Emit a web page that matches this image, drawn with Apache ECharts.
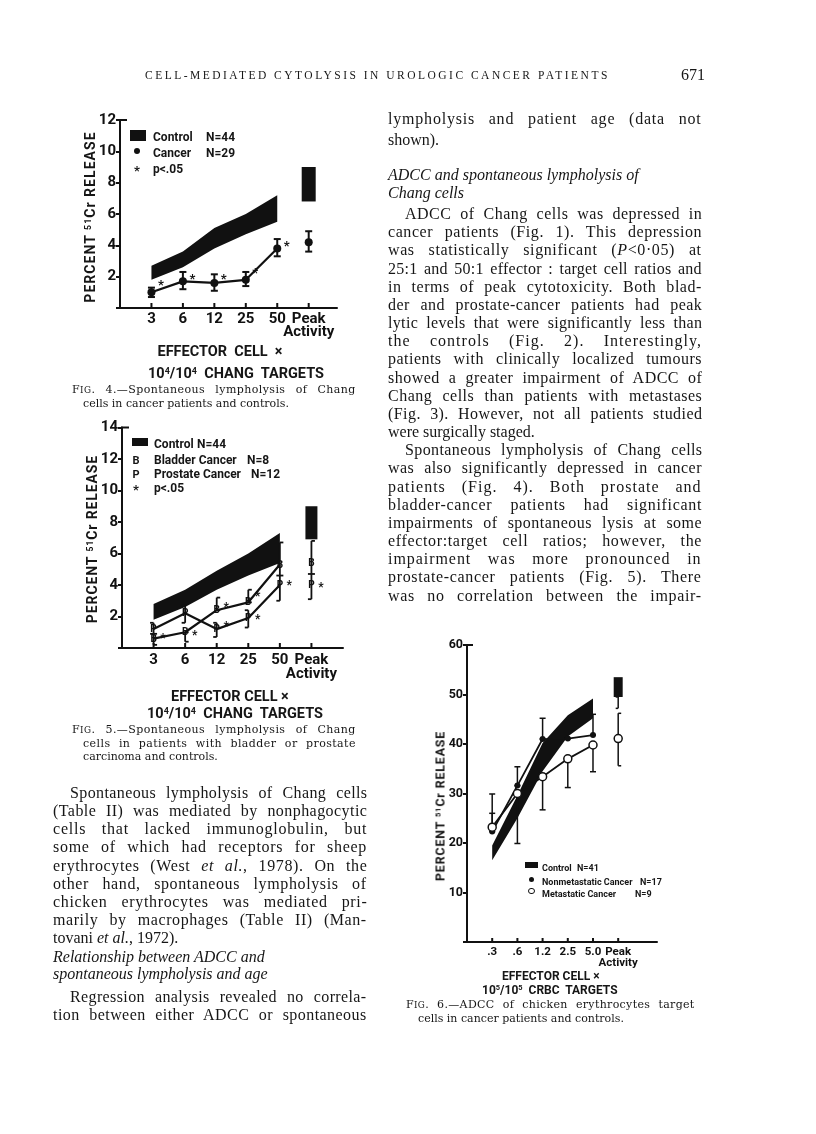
<!DOCTYPE html>
<html>
<head>
<meta charset="utf-8">
<script src="https://cdn.jsdelivr.net/npm/echarts@6/dist/echarts.min.js"></script>
<style>
html, body { margin: 0; padding: 0; background: #fff; }
#page { position: relative; width: 816px; height: 1134px; overflow: hidden; background: #fff; }
#chart { position: absolute; left: 0; top: 0; width: 816px; height: 1134px; }
.t { position: absolute; white-space: nowrap; color: #161616; }
.body { font: 16px/18px "Liberation Serif", "Times New Roman", serif; }
.cap { font: 11px/13px "DejaVu Serif", serif; }
.hdr { font: 11.5px/14px "Liberation Serif", serif; }
.s { font-family: Roboto, "DejaVu Sans", sans-serif; font-weight: 700; }
.rot { transform: translate(-50%, -50%) rotate(-90deg); }
.box { position: absolute; background: #111; }
.dot { position: absolute; border-radius: 50%; box-sizing: border-box; }
sup { font-size: 0.62em; vertical-align: 0.5em; line-height: 0; }
.sc { font-size: 0.8em; }
</style>
</head>
<body>
<div id="page"><div id="chart"></div></div>
<script>
// ---- Fig. 4 : spontaneous lympholysis, cancer vs control
const f4Labels = ['3', '6', '12', '25', '50', 'Peak\nActivity'];
const f4X = [1, 2, 3, 4, 5];
const f4CtrlLo = [1.8, 2.6, 3.8, 4.7, 5.5];
const f4CtrlHi = [2.7, 3.6, 5.1, 6.0, 7.2];
const f4CtrlPeak = [6.8, 9.0];
const f4Cancer = [1.0, 1.7, 1.6, 1.8, 3.8];
const f4CancerLo = [0.7, 1.2, 1.1, 1.4, 3.3];
const f4CancerHi = [1.3, 2.3, 2.15, 2.3, 4.4];
const f4CancerPeak = [4.2, 3.6, 4.9]; // value, low, high
const f4StarX = [1.3, 2.3, 3.3, 4.3, 5.3];
const f4StarY = [1.6, 2.0, 2.0, 2.4, 4.1];

// ---- Fig. 5 : bladder / prostate
const f5Labels = ['3', '6', '12', '25', '50', 'Peak\nActivity'];
const f5X = [1, 2, 3, 4, 5];
const f5CtrlLo = [1.8, 2.6, 3.7, 4.6, 5.4];
const f5CtrlHi = [2.8, 3.7, 4.9, 6.0, 7.3];
const f5CtrlPeak = [6.9, 9.0];
const f5Bladder = [0.6, 1.0, 2.4, 2.9, 5.3];
const f5BladderLo = [0.2, 0.4, 2.4, 2.9, 4.6];
const f5BladderHi = [0.9, 1.0, 3.2, 3.7, 6.7];
const f5BladderPeak = [5.4, 4.7, 6.8];
const f5Prostate = [1.2, 2.2, 1.2, 1.9, 4.0];
const f5ProstateLo = [0.9, 1.6, 0.7, 1.3, 3.0];
const f5ProstateHi = [1.6, 2.7, 1.6, 2.4, 4.6];
const f5ProstatePeak = [4.0, 3.1, 4.7];
const f5StarX = [1.3, 2.3, 3.3, 3.3, 4.3, 4.3, 5.3, 6.3];
const f5StarY = [0.75, 0.97, 2.75, 1.5, 3.4, 2.0, 4.15, 4.0];

// ---- Fig. 6 : ADCC of chicken erythrocytes
const f6Labels = ['.3', '.6', '1.2', '2.5', '5.0', 'Peak\nActivity'];
const f6X = [1, 2, 3, 4, 5];
const f6CtrlLo = [16.5, 25.0, 34.5, 41.5, 45.2];
const f6CtrlHi = [19.5, 29.6, 40.2, 45.8, 49.2];
const f6CtrlPeak = [49.5, 53.5];
const f6CtrlPeakLo = 47.2;
const f6NonMet = [22.3, 31.6, 41.0, 41.1, 41.8];
const f6NonMetHi = [26.0, 35.4, 45.2, 41.1, 46.0];
const f6Met = [23.2, 30.0, 33.4, 37.0, 39.8];
const f6MetLo = [23.2, 19.9, 26.7, 31.2, 34.4];
const f6MetHi = [29.9, 30.0, 33.4, 37.0, 39.8];
const f6MetPeak = [41.1, 35.6, 46.2];

// tick positions shared by the three x axes (5 ratios + peak)
const tickPos = [1, 2, 3, 4, 5, 6];
const PEAK = 6;
const INK = '#111';
const SANS = 'Roboto, "DejaVu Sans", sans-serif';

function xAx(g, max, labels, fs, lh) {
  return {
    type: 'value', gridIndex: g, min: 0, max: max, interval: 1,
    axisLine: { onZero: false, lineStyle: { color: INK, width: 2 } },
    axisTick: { show: false },
    axisLabel: {
      formatter: v => (tickPos.indexOf(v) >= 0 ? labels[v - 1] : ''),
      showMinLabel: true, showMaxLabel: true,
      fontFamily: SANS, fontWeight: 'bold', fontSize: fs, lineHeight: lh, color: INK, margin: 5
    },
    splitLine: { show: false }
  };
}

function yAx(g, max, step, fs) {
  return {
    type: 'value', gridIndex: g, min: 0, max: max, interval: step,
    axisLine: { show: true, onZero: false, lineStyle: { color: INK, width: 2 } },
    axisTick: { show: true, length: 4, lineStyle: { color: INK, width: 2 } },
    axisLabel: {
      formatter: v => (v === 0 ? '' : String(v)),
      fontFamily: SANS, fontWeight: 'bold', fontSize: fs, color: INK, margin: 4
    },
    splitLine: { show: false }
  };
}

// inside x ticks plus the little stub at the top of the y axis
function ticks(g, ymax, len, stub) {
  return {
    type: 'custom', xAxisIndex: g, yAxisIndex: g, z: 2, silent: true,
    data: tickPos.map(v => [v, 0]).concat([[0, ymax]]),
    renderItem(params, api) {
      const c = api.coord([api.value(0), api.value(1)]);
      const st = { stroke: INK, lineWidth: 2 };
      if (api.value(1) > 0) return { type: 'line', shape: { x1: c[0] - 1, y1: c[1], x2: c[0] + stub, y2: c[1] }, style: st };
      return { type: 'line', shape: { x1: c[0], y1: c[1], x2: c[0], y2: c[1] - len }, style: st };
    }
  };
}

function band(g, xs, lo, hi) {
  return {
    type: 'custom', xAxisIndex: g, yAxisIndex: g, z: 1, silent: true,
    data: xs.map((x, i) => [x, lo[i], hi[i]]),
    renderItem(params, api) {
      if (params.dataIndex !== 0) return;
      const top = xs.map((x, i) => api.coord([x, hi[i]]));
      const bot = xs.map((x, i) => api.coord([x, lo[i]])).reverse();
      return { type: 'polygon', shape: { points: top.concat(bot) }, style: { fill: INK } };
    }
  };
}

function peakBox(g, range, w) {
  return {
    type: 'custom', xAxisIndex: g, yAxisIndex: g, z: 1, silent: true,
    data: [[PEAK, range[0], range[1]]],
    renderItem(params, api) {
      const a = api.coord([api.value(0), api.value(2)]);
      const b = api.coord([api.value(0), api.value(1)]);
      return { type: 'rect', shape: { x: a[0] - w / 2, y: a[1], width: w, height: b[1] - a[1] }, style: { fill: INK } };
    }
  };
}

function errBars(g, xs, lo, hi, cap, side, lw) {
  return {
    type: 'custom', xAxisIndex: g, yAxisIndex: g, z: 2, silent: true,
    data: xs.map((x, i) => [x, lo[i], hi[i]]),
    renderItem(params, api) {
      const t = api.coord([api.value(0), api.value(2)]);
      const b = api.coord([api.value(0), api.value(1)]);
      const l = side === 'right' ? 0 : -cap;
      const r = side === 'left' ? 0 : cap;
      const st = { stroke: INK, lineWidth: lw };
      return {
        type: 'group', children: [
          { type: 'line', shape: { x1: t[0], y1: t[1], x2: b[0], y2: b[1] }, style: st },
          { type: 'line', shape: { x1: t[0] + l, y1: t[1], x2: t[0] + r, y2: t[1] }, style: st },
          { type: 'line', shape: { x1: b[0] + l, y1: b[1], x2: b[0] + r, y2: b[1] }, style: st }
        ]
      };
    }
  };
}

function glyphs(g, xs, ys, txt, fs, dy) {
  return {
    type: 'custom', xAxisIndex: g, yAxisIndex: g, z: 5, silent: true,
    data: xs.map((x, i) => [x, ys[i]]),
    renderItem(params, api) {
      const p = api.coord([api.value(0), api.value(1)]);
      return {
        type: 'text', x: p[0], y: p[1] + dy,
        style: { text: txt, fontFamily: SANS, fontWeight: 'bold', fontSize: fs, fill: INK, align: 'center', verticalAlign: 'middle' }
      };
    }
  };
}

function line(g, xs, ys, sym, size, fill, lw) {
  return {
    type: 'line', xAxisIndex: g, yAxisIndex: g, z: 3, silent: true,
    data: xs.map((x, i) => [x, ys[i]]),
    symbol: sym, symbolSize: size, showSymbol: sym !== 'none',
    itemStyle: { color: fill, borderColor: INK, borderWidth: fill === '#fff' ? 1.5 : 0 },
    lineStyle: { color: INK, width: lw }
  };
}

function dotAt(g, x, y, size, fill) {
  return {
    type: 'scatter', xAxisIndex: g, yAxisIndex: g, z: 4, silent: true,
    data: [[x, y]], symbol: 'circle', symbolSize: size,
    itemStyle: { color: fill, borderColor: INK, borderWidth: fill === '#fff' ? 1.5 : 0, opacity: 1 }
  };
}

const chart = echarts.init(document.getElementById('chart'), null, { renderer: 'canvas' });
chart.setOption({
  animation: false,
  backgroundColor: '#fff',
  grid: [
    { left: 120, top: 120, width: 217, height: 188 },
    { left: 122, top: 427.5, width: 221, height: 220.5 },
    { left: 467, top: 645, width: 190, height: 297 }
  ],
  xAxis: [xAx(0, 6.9, f4Labels, 15, 13), xAx(1, 7, f5Labels, 15, 14), xAx(2, 7.54, f6Labels, 11.5, 11)],
  yAxis: [yAx(0, 12, 2, 15), yAx(1, 14, 2, 15), yAx(2, 60, 10, 12.5)],
  series: [
    // fig 4
    ticks(0, 12, 5, 7),
    band(0, f4X, f4CtrlLo, f4CtrlHi),
    peakBox(0, f4CtrlPeak, 14),
    errBars(0, f4X, f4CancerLo, f4CancerHi, 3.5, 'both', 2),
    errBars(0, [PEAK], [f4CancerPeak[1]], [f4CancerPeak[2]], 3.5, 'both', 2),
    line(0, f4X, f4Cancer, 'circle', 8, INK, 2.2),
    dotAt(0, PEAK, f4CancerPeak[0], 8, INK),
    glyphs(0, f4StarX, f4StarY, '*', 13, 3),
    // fig 5
    ticks(1, 14, 5, 7),
    band(1, f5X, f5CtrlLo, f5CtrlHi),
    peakBox(1, f5CtrlPeak, 12),
    errBars(1, f5X, f5BladderLo, f5BladderHi, 3.5, 'right', 1.8),
    errBars(1, [PEAK], [f5BladderPeak[1]], [f5BladderPeak[2]], 3.5, 'right', 1.8),
    errBars(1, f5X, f5ProstateLo, f5ProstateHi, 3.5, 'left', 1.8),
    errBars(1, [PEAK], [f5ProstatePeak[1]], [f5ProstatePeak[2]], 3.5, 'left', 1.8),
    line(1, f5X, f5Bladder, 'none', 0, INK, 2.2),
    line(1, f5X, f5Prostate, 'none', 0, INK, 2.2),
    glyphs(1, f5X.concat([PEAK]), f5Bladder.concat([f5BladderPeak[0]]), 'B', 10, 0.5),
    glyphs(1, f5X.concat([PEAK]), f5Prostate.concat([f5ProstatePeak[0]]), 'P', 10, 0.5),
    glyphs(1, f5StarX, f5StarY, '*', 12, 3),
    // fig 6
    ticks(2, 60, 4, 6),
    band(2, f6X, f6CtrlLo, f6CtrlHi),
    peakBox(2, f6CtrlPeak, 9),
    errBars(2, [PEAK], [f6CtrlPeakLo], [f6CtrlPeak[0]], 2.5, 'left', 1.5),
    errBars(2, f6X, f6NonMet, f6NonMetHi, 3, 'both', 1.5),
    errBars(2, f6X, f6MetLo, f6MetHi, 3, 'both', 1.5),
    errBars(2, [PEAK], [f6MetPeak[1]], [f6MetPeak[2]], 3, 'right', 1.5),
    line(2, f6X, f6NonMet, 'circle', 6, INK, 1.8),
    line(2, f6X, f6Met, 'circle', 8, '#fff', 1.8),
    dotAt(2, PEAK, f6MetPeak[0], 8, '#fff')
  ]
});

// ---- page text
const page = document.getElementById('page');
function put(x, y, html, cls, opt) {
  opt = opt || {};
  const d = document.createElement('div');
  d.className = 't ' + cls + (opt.rot ? ' rot' : '');
  d.innerHTML = html;
  d.style.left = x + 'px';
  d.style.top = y + 'px';
  page.appendChild(d);
  const n = d.textContent.length;
  if (opt.w) {
    const extra = opt.w - d.offsetWidth;
    const sp = (d.textContent.match(/ /g) || []).length;
    if (opt.ls || !sp || extra < 0) d.style.letterSpacing = (extra / n) + 'px';
    else {
      d.style.letterSpacing = (extra * 0.4 / n) + 'px';
      d.style.wordSpacing = (extra * 0.6 / sp) + 'px';
    }
  }
  if (!opt.rot) {
    d.style.top = (y - d.offsetHeight / 2) + 'px';
    if (opt.center) d.style.left = (x - d.offsetWidth / 2) + 'px';
  }
  return d;
}
function rect(x, y, w, h) {
  const d = document.createElement('div');
  d.className = 'box';
  Object.assign(d.style, { left: x + 'px', top: y + 'px', width: w + 'px', height: h + 'px' });
  page.appendChild(d);
}
function circ(cx, cy, dia, open) {
  const d = document.createElement('div');
  d.className = 'dot';
  Object.assign(d.style, {
    left: (cx - dia / 2) + 'px', top: (cy - dia / 2) + 'px', width: dia + 'px', height: dia + 'px',
    background: open ? '#fff' : '#111', border: open ? '1.5px solid #111' : 'none'
  });
  page.appendChild(d);
}
function para(x, y0, step, w, lines) {
  lines.forEach((l, i) => {
    const ind = l.i ? 17 : 0;
    put(x + ind, y0 + i * step, l.t, 'body', l.j === false ? {} : { w: w - ind });
  });
}

// header
put(145, 75, 'CELL-MEDIATED CYTOLYSIS IN UROLOGIC CANCER PATIENTS', 'hdr', { w: 465, ls: true });
put(681, 75, '671', 'body');

// right column
put(388, 119, 'lympholysis and patient age (data not', 'body', { w: 314 });
put(388, 140, 'shown).', 'body');
put(388, 175, '<i>ADCC and spontaneous lympholysis of</i>', 'body');
put(388, 193, '<i>Chang cells</i>', 'body');
para(388, 214, 18.17, 314, [
  { t: 'ADCC of Chang cells was depressed in', i: 1 },
  { t: 'cancer patients (Fig. 1). This depression' },
  { t: 'was statistically significant (<i>P</i>&lt;0·05) at' },
  { t: '25:1 and 50:1 effector : target cell ratios and' },
  { t: 'in terms of peak cytotoxicity. Both blad-' },
  { t: 'der and prostate-cancer patients had peak' },
  { t: 'lytic levels that were significantly less than' },
  { t: 'the controls (Fig. 2). Interestingly,' },
  { t: 'patients with clinically localized tumours' },
  { t: 'showed a greater impairment of ADCC of' },
  { t: 'Chang cells than patients with metastases' },
  { t: '(Fig. 3). However, not all patients studied' },
  { t: 'were surgically staged.', j: false },
  { t: 'Spontaneous lympholysis of Chang cells', i: 1 },
  { t: 'was also significantly depressed in cancer' },
  { t: 'patients (Fig. 4). Both prostate and' },
  { t: 'bladder-cancer patients had significant' },
  { t: 'impairments of spontaneous lysis at some' },
  { t: 'effector:target cell ratios; however, the' },
  { t: 'impairment was more pronounced in' },
  { t: 'prostate-cancer patients (Fig. 5). There' },
  { t: 'was no correlation between the impair-' }
]);

// left column
para(53, 793.3, 18.05, 314, [
  { t: 'Spontaneous lympholysis of Chang cells', i: 1 },
  { t: '(Table II) was mediated by nonphagocytic' },
  { t: 'cells that lacked immunoglobulin, but' },
  { t: 'some of which had receptors for sheep' },
  { t: 'erythrocytes (West <i>et al.</i>, 1978). On the' },
  { t: 'other hand, spontaneous lympholysis of' },
  { t: 'chicken erythrocytes was mediated pri-' },
  { t: 'marily by macrophages (Table II) (Man-' },
  { t: 'tovani <i>et al.</i>, 1972).', j: false }
]);
put(53, 957.3, '<i>Relationship between ADCC and</i>', 'body');
put(53, 974.3, '<i>spontaneous lympholysis and age</i>', 'body');
para(53, 996.7, 18.3, 314, [
  { t: 'Regression analysis revealed no correla-', i: 1 },
  { t: 'tion between either ADCC or spontaneous' }
]);

// captions
const FIG = 'F<span class="sc">IG</span>.';
put(72, 390, FIG + ' 4.—Spontaneous lympholysis of Chang', 'cap', { w: 284 });
put(83, 403, 'cells in cancer patients and controls.', 'cap');
put(72, 730, FIG + ' 5.—Spontaneous lympholysis of Chang', 'cap', { w: 284 });
put(83, 743, 'cells in patients with bladder or prostate', 'cap', { w: 273 });
put(83, 756, 'carcinoma and controls.', 'cap');
put(406, 1005, FIG + ' 6.—ADCC of chicken erythrocytes target', 'cap', { w: 289 });
put(418, 1018, 'cells in cancer patients and controls.', 'cap');

// axis titles
const YT = 'PERCENT <sup>51</sup>Cr RELEASE';
function rotTitle(cx, cy, len, fs) {
  const d = put(cx, cy, YT, 's', { rot: true });
  d.style.fontSize = fs + 'px';
  d.style.letterSpacing = ((len - d.offsetWidth) / d.textContent.length) + 'px';
}
rotTitle(90, 217, 171, 14);
rotTitle(92, 539, 168, 14);
rotTitle(440, 806, 150, 12.5);

function sans(x, y, html, fs, opt) {
  return put(x, y, '<span style="font-size:' + fs + 'px">' + html + '</span>', 's', opt || {});
}
sans(220, 350, 'EFFECTOR&nbsp; CELL&nbsp; ×', 14.5, { center: true });
sans(236, 372, '10<sup>4</sup>/10<sup>4</sup>&nbsp; CHANG&nbsp; TARGETS', 14.5, { center: true });
sans(230, 695, 'EFFECTOR CELL ×', 14.5, { center: true });
sans(235, 712, '10<sup>4</sup>/10<sup>4</sup>&nbsp; CHANG&nbsp; TARGETS', 14.5, { center: true });
sans(551, 974, 'EFFECTOR CELL ×', 12, { center: true });
sans(550, 988, '10<sup>5</sup>/10<sup>5</sup>&nbsp; CRBC&nbsp; TARGETS', 12, { center: true });

// legends
rect(130, 130, 16, 11);
sans(153, 135, 'Control', 12); sans(206, 135, 'N=44', 12);
circ(137, 151, 6);
sans(153, 151, 'Cancer', 12); sans(206, 151, 'N=29', 12);
sans(137, 169, '*', 13, { center: true });
sans(153, 167, 'p&lt;.05', 12);

rect(132, 438, 16, 8);
sans(154, 442, 'Control', 12); sans(197, 442, 'N=44', 12);
sans(136, 458, 'B', 11, { center: true });
sans(154, 458, 'Bladder Cancer', 12); sans(247, 458, 'N=8', 12);
sans(136, 472, 'P', 11, { center: true });
sans(154, 472, 'Prostate Cancer', 12); sans(251, 472, 'N=12', 12);
sans(136, 488, '*', 13, { center: true });
sans(154, 486, 'p&lt;.05', 12);

rect(525, 862, 13, 6);
sans(542, 865.5, 'Control', 9); sans(577, 865.5, 'N=41', 9);
circ(531.5, 879, 5);
sans(542, 879, 'Nonmetastatic Cancer', 9); sans(640, 879, 'N=17', 9);
circ(531.5, 891, 6.5, true);
sans(542, 891, 'Metastatic Cancer', 9); sans(635, 891, 'N=9', 9);
</script>
</body>
</html>
